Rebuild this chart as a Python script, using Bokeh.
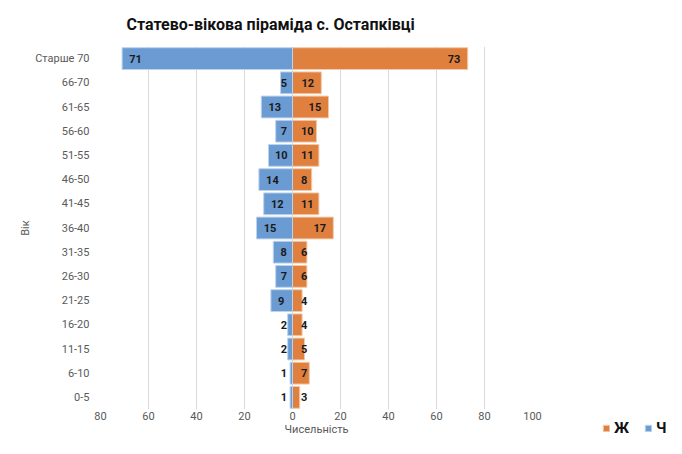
from bokeh.plotting import figure
from bokeh.layouts import row
from bokeh.models import ColumnDataSource, FixedTicker, Legend, LegendItem, Title
from bokeh.embed import file_html
from bokeh.resources import INLINE
from bokeh.core.properties import value

# ---- data ----
age_groups = ["Старше 70", "66-70", "61-65", "56-60", "51-55", "46-50", "41-45",
              "36-40", "31-35", "26-30", "21-25", "16-20", "11-15", "6-10", "0-5"]
female = [73, 12, 15, 10, 11, 8, 11, 17, 6, 6, 4, 4, 5, 7, 3]   # Ж
male = [71, 5, 13, 7, 10, 14, 12, 15, 8, 7, 9, 2, 2, 1, 1]       # Ч
x_ticks = [-80, -60, -40, -20, 0, 20, 40, 60, 80, 100]
x_tick_labels = ["80", "60", "40", "20", "0", "20", "40", "60", "80", "100"]
series_names = ["Ж", "Ч"]

title_text = "Статево-вікова піраміда с. Остапківці"
x_title = "Чисельність"
y_title = "Вік"

BLUE = "#6a9bd2"
ORANGE = "#e0803f"
FONT = "Roboto"

factors = list(reversed(age_groups))

def digits_w(v):
    return 2.4 * len(str(v))

src = ColumnDataSource(dict(
    age=age_groups,
    m_left=[-v for v in male],
    f_right=female,
    m_lab=[str(v) for v in male],
    f_lab=[str(v) for v in female],
    m_lx=[min(-v + 3.0, -2.5 - digits_w(v)) for v in male],
    f_lx=[max(3.5, v - 3.5 - digits_w(v)) for v in female],
))

p = figure(width=568, height=438, y_range=factors, x_range=(-80, 100),
           output_backend="svg", toolbar_location=None,
           min_border_left=100, min_border_right=36,
           min_border_top=0, min_border_bottom=0)
p.outline_line_color = None
p.background_fill_color = "white"
p.border_fill_color = "white"

# title
p.title = Title(text=title_text, align="left", offset=26,
                text_font=FONT, text_font_size="16px", text_font_style="bold",
                text_color="#111111")
p.title.standoff = 25

f_style = dict(fill_color=ORANGE, line_color="#f3c9a9", line_width=1)
m_style = dict(fill_color=BLUE, line_color="#bcd3ee", line_width=1)

p.hbar(y="age", left=0, right="f_right", height=0.9, source=src, **f_style)
p.hbar(y="age", left="m_left", right=0, height=0.9, source=src, **m_style)

p.text(x="m_lx", y="age", text="m_lab", source=src, text_align="left",
       text_baseline="middle", text_font=value(FONT), text_font_size="11px",
       text_font_style="bold", text_color="#1a1a1a")
p.text(x="f_lx", y="age", text="f_lab", source=src, text_align="left",
       text_baseline="middle", text_font=value(FONT), text_font_size="11px",
       text_font_style="bold", text_color="#1a1a1a")

# axes
p.xaxis.ticker = FixedTicker(ticks=x_ticks)
p.xaxis.major_label_overrides = {t: l for t, l in zip(x_ticks, x_tick_labels)}
p.xaxis.axis_line_color = None
p.xaxis.major_tick_line_color = None
p.xaxis.minor_tick_line_color = None
p.xaxis.major_tick_out = 0
p.xaxis.major_label_standoff = 2
p.xaxis.major_label_text_font = FONT
p.xaxis.major_label_text_font_size = "11px"
p.xaxis.major_label_text_color = "#595959"
p.xaxis.axis_label = x_title
p.xaxis.axis_label_text_font = FONT
p.xaxis.axis_label_text_font_size = "11px"
p.xaxis.axis_label_text_font_style = "normal"
p.xaxis.axis_label_text_color = "#595959"
p.xaxis.axis_label_standoff = 0

p.yaxis.axis_line_color = None
p.yaxis.major_tick_line_color = None
p.yaxis.minor_tick_line_color = None
p.yaxis.major_tick_out = 0
p.yaxis.major_label_standoff = 11
p.yaxis.major_label_text_font = FONT
p.yaxis.major_label_text_font_size = "11px"
p.yaxis.major_label_text_color = "#595959"
p.yaxis.axis_label = y_title
p.yaxis.axis_label_text_font = FONT
p.yaxis.axis_label_text_font_size = "11px"
p.yaxis.axis_label_text_font_style = "normal"
p.yaxis.axis_label_text_color = "#595959"
p.yaxis.axis_label_standoff = 0

p.ygrid.grid_line_color = None
p.xgrid.ticker = FixedTicker(ticks=x_ticks)
p.xgrid.grid_line_color = "#d9d9d9"
p.xgrid.grid_line_width = 1

# ---- legend panel (right of the chart, level with the x tick labels) ----
pl = figure(width=98, height=438, x_range=(0, 1), y_range=(0, 1),
            output_backend="svg", toolbar_location=None,
            x_axis_location=None, y_axis_location=None,
            min_border=0, min_border_left=0, min_border_right=0,
            min_border_top=0, min_border_bottom=0)
try:
    pl.frame_align = False
except Exception:
    pass
pl.outline_line_color = None
pl.grid.grid_line_color = None
# one off-range sample each, so the legend swatches have something to draw
lf = pl.hbar(y=[-5], left=[0], right=[1], height=0.5, **f_style)
lm = pl.hbar(y=[-5], left=[0], right=[1], height=0.5, **m_style)
legend = Legend(items=[LegendItem(label=series_names[0], renderers=[lf], index=0),
                       LegendItem(label=series_names[1], renderers=[lm], index=0)],
                orientation="horizontal", location=(34, 1),
                background_fill_alpha=0, border_line_color=None,
                glyph_width=8, glyph_height=8, spacing=10, label_standoff=4,
                padding=0, margin=0,
                label_text_font=FONT, label_text_font_size="15px",
                label_text_font_style="bold", label_text_color="#111111")
pl.add_layout(legend, "center")

layout = row(p, pl)
open("out.html", "w").write(file_html(layout, INLINE))
